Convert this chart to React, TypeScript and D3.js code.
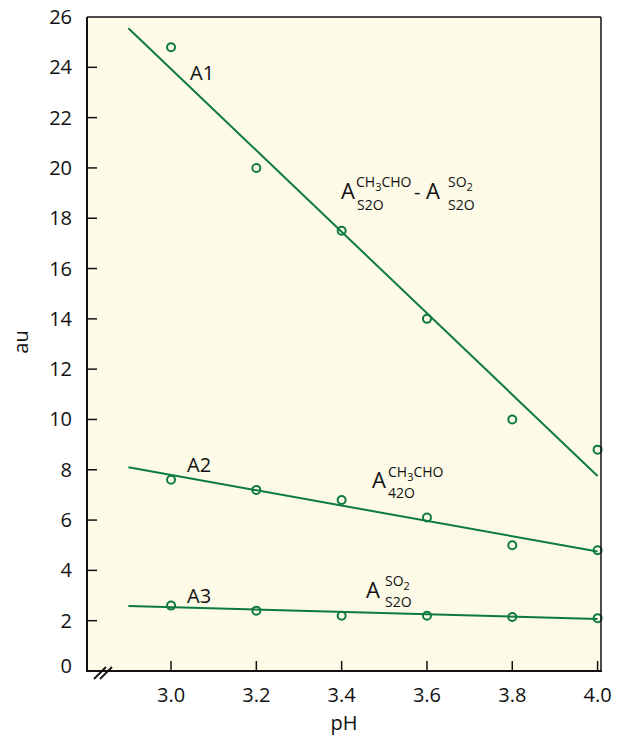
import React from 'react';
import * as d3 from 'd3';

// pH values and measured absorbances (au)
const phValues = [3.0, 3.2, 3.4, 3.6, 3.8, 4.0];
const a1Values = [24.8, 20.0, 17.5, 14.0, 10.0, 8.8];
const a2Values = [7.6, 7.2, 6.8, 6.1, 5.0, 4.8];
const a3Values = [2.6, 2.4, 2.2, 2.2, 2.15, 2.1];

// fitted straight lines: [pH, au] at both ends
const a1Fit = [[2.9, 25.55], [4.0, 7.75]];
const a2Fit = [[2.9, 8.1], [4.0, 4.75]];
const a3Fit = [[2.9, 2.58], [4.0, 2.07]];

const yTicks = [0, 2, 4, 6, 8, 10, 12, 14, 16, 18, 20, 22, 24, 26];
const xTicks = [3.0, 3.2, 3.4, 3.6, 3.8, 4.0];

const W = 627;
const H = 740;
const FONT = '"Open Sans", "DejaVu Sans", sans-serif';
const GREEN = '#0d7a3e';

const App = () => {
  const x = d3.scaleLinear().domain([2.803, 4.008]).range([87, 601]);
  const y = d3.scaleLinear().domain([0, 26]).range([671, 17]);
  const line = d3.line<number[]>().x(d => x(d[0])).y(d => y(d[1]));

  const series = [a1Values, a2Values, a3Values];
  const fits = [a1Fit, a2Fit, a3Fit];

  const [x0, x1] = x.range();
  const [y0, y1] = y.range();

  return (
    <div style={{ position: 'absolute', left: 0, top: 0 }}>
      <svg width={W} height={H} style={{ display: 'block', fontFamily: FONT }}>
        <rect x={x0} y={y1} width={x1 - x0} height={y0 - y1} fill="#fdfae8" />

        {/* fit lines */}
        {fits.map((f, i) => (
          <path key={'f' + i} d={line(f) || ''} fill="none" stroke={GREEN} strokeWidth={2} />
        ))}

        {/* data points */}
        {series.map((vals, i) =>
          vals.map((v, j) => (
            <circle key={`p${i}-${j}`} cx={x(phValues[j])} cy={y(v)} r={4}
              fill="none" stroke={GREEN} strokeWidth={2} />
          ))
        )}

        {/* frame */}
        <line x1={x0} x2={x1} y1={y1} y2={y1} stroke="#111" strokeWidth={1.5} />
        <line x1={x1} x2={x1} y1={y1} y2={y0} stroke="#111" strokeWidth={1.5} />
        <line x1={x0} x2={x0} y1={y1} y2={y0 + 1} stroke="#111" strokeWidth={2} />
        <line x1={x0 - 1} x2={x1 + 1} y1={y0} y2={y0} stroke="#111" strokeWidth={2} />

        {/* y ticks */}
        {yTicks.map(t => (
          <g key={'y' + t}>
            {t > 0 && t < 26 && (
              <line x1={x0} x2={x0 + 10} y1={y(t)} y2={y(t)} stroke="#111" strokeWidth={1.5} />
            )}
            <text x={x0 - 15} y={t === 0 ? y(t) - 5 : y(t)} dy="0.35em" textAnchor="end" fontSize={20} fill="#111">
              {t}
            </text>
          </g>
        ))}

        {/* x ticks */}
        {xTicks.map(t => (
          <g key={'x' + t}>
            <line x1={x(t)} x2={x(t)} y1={y0} y2={y0 - 10} stroke="#111" strokeWidth={1.5} />
            <text x={x(t)} y={y0 + 31} textAnchor="middle" fontSize={20} fill="#111">
              {t.toFixed(1)}
            </text>
          </g>
        ))}

        {/* axis break */}
        <line x1={94} y1={679} x2={106} y2={667} stroke="#111" strokeWidth={1.8} />
        <line x1={100} y1={679} x2={112} y2={667} stroke="#111" strokeWidth={1.8} />

        {/* axis titles */}
        <text x={344} y={730} textAnchor="middle" fontSize={20} fill="#111">pH</text>
        <text transform="translate(28,342) rotate(-90)" textAnchor="middle" fontSize={20} fill="#111">au</text>

        {/* series names */}
        <text x={190} y={80} fontSize={20} fill="#111">A1</text>
        <text x={187} y={472} fontSize={20} fill="#111">A2</text>
        <text x={187} y={603} fontSize={20} fill="#111">A3</text>

        {/* A(S2O, CH3CHO) - A(S2O, SO2) */}
        <g fill="#111">
          <text x={341} y={199} fontSize={22}>A</text>
          <text x={356} y={187} fontSize={14}>CH<tspan dy={4} fontSize={11}>3</tspan><tspan dy={-4}>CHO</tspan></text>
          <text x={357} y={210} fontSize={14}>S2O</text>
          <text x={414} y={199} fontSize={20}>-</text>
          <text x={426} y={199} fontSize={22}>A</text>
          <text x={448} y={187} fontSize={14}>SO<tspan dy={4} fontSize={11}>2</tspan></text>
          <text x={448} y={210} fontSize={14}>S2O</text>
        </g>

        {/* A(42O, CH3CHO) */}
        <g fill="#111">
          <text x={372} y={488} fontSize={22}>A</text>
          <text x={388} y={477} fontSize={14}>CH<tspan dy={4} fontSize={11}>3</tspan><tspan dy={-4}>CHO</tspan></text>
          <text x={388} y={498} fontSize={14}>42O</text>
        </g>

        {/* A(S2O, SO2) */}
        <g fill="#111">
          <text x={366} y={598} fontSize={22}>A</text>
          <text x={385} y={586} fontSize={14}>SO<tspan dy={4} fontSize={11}>2</tspan></text>
          <text x={385} y={607} fontSize={14}>S2O</text>
        </g>
      </svg>
    </div>
  );
};

export default App;
